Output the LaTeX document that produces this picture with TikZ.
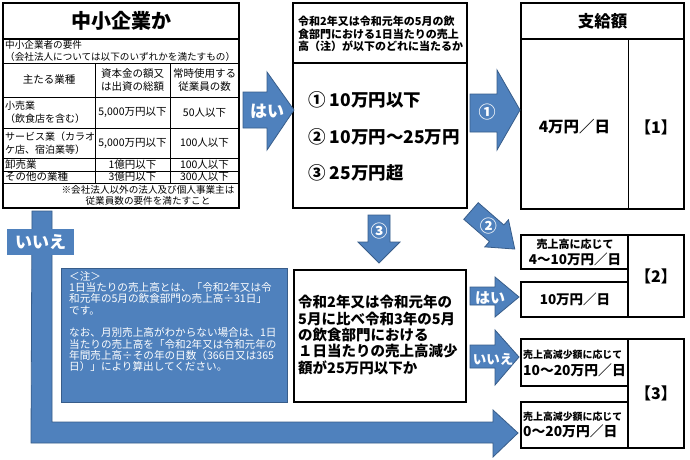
\documentclass[tikz,border=0pt]{standalone}
\usepackage{fontspec}
\setmainfont{Noto Sans CJK JP}
\definecolor{ablue}{HTML}{4F81BD}
\definecolor{aedge}{HTML}{385D8A}
\newcommand{\fsz}[2]{\fontsize{#1}{#2}\selectfont}
\begin{document}
\begin{tikzpicture}[x=1pt,y=-1pt,
  thickbox/.style={draw=black, line width=1.6pt},
  thinline/.style={draw=black, line width=0.8pt},
  blk/.style={fill=ablue, draw=aedge, line width=0.8pt},
  txt/.style={inner sep=0pt, text=black},
  wtxt/.style={inner sep=0pt, text=white, font=\bfseries\fsz{17}{20}},
]
\fill[white] (0,0) rectangle (690,460);
\useasboundingbox (0,0) rectangle (690,460);

% ---------- left box ----------
\draw[thickbox] (3,3) rectangle (239,208);
\draw[thickbox] (3,39) -- (239,39);
\foreach \yy in {63,97,128,158,171,183} \draw[thinline] (3,\yy) -- (239,\yy);
\draw[thinline] (95,63) -- (95,183);
\draw[thinline] (170,63) -- (170,183);

\node[txt, font=\bfseries\fsz{20}{24}] (title) at (121,21) {中小企業か};
\node[txt, font=\fsz{9.6}{11.5}, anchor=west, align=left] (req) at (5,51) {中小企業者の要件\\（会社法人については以下のいずれかを満たすもの）};
\node[txt, font=\fsz{10.5}{13}] (h1) at (49,80) {主たる業種};
\node[txt, font=\fsz{10.5}{13}, align=center] (h2) at (132.5,80) {資本金の額又\\は出資の総額};
\node[txt, font=\fsz{10.5}{13}, align=center] (h3) at (204.5,80) {常時使用する\\従業員の数};

\node[txt, font=\fsz{10}{13}, anchor=west, align=left] (r1a) at (5,112.5) {小売業\\（飲食店を含む）};
\node[txt, font=\fsz{10.5}{13}] (r1b) at (132.5,112.5) {5,000万円以下};
\node[txt, font=\fsz{10.5}{13}] (r1c) at (204.5,112.5) {50人以下};
\node[txt, font=\fsz{10}{13}, anchor=west, align=left] (r2a) at (5,143) {サービス業（カラオ\\ケ店、宿泊業等）};
\node[txt, font=\fsz{10.5}{13}] (r2b) at (132.5,143) {5,000万円以下};
\node[txt, font=\fsz{10.5}{13}] (r2c) at (204.5,143) {100人以下};
\node[txt, font=\fsz{10.5}{13}, anchor=west] (r3a) at (5,164.5) {卸売業};
\node[txt, font=\fsz{10.5}{13}] (r3b) at (132.5,164.5) {1億円以下};
\node[txt, font=\fsz{10.5}{13}] (r3c) at (204.5,164.5) {100人以下};
\node[txt, font=\fsz{10.5}{13}, anchor=west] (r4a) at (5,177) {その他の業種};
\node[txt, font=\fsz{10.5}{13}] (r4b) at (132.5,177) {3億円以下};
\node[txt, font=\fsz{10.5}{13}] (r4c) at (204.5,177) {300人以下};
\node[txt, font=\fsz{9.6}{11}, align=center] (rnote) at (148,195.5) {※会社法人以外の法人及び個人事業主は\\従業員数の要件を満たすこと};

% ---------- middle top box ----------
\draw[thickbox] (293,3) rectangle (467,208);
\draw[thickbox] (293,63) -- (467,63);
\node[txt, font=\bfseries\fsz{11}{12.2}, anchor=west, align=left] (q1) at (298,34) {令和2年又は令和元年の5月の飲\\食部門における1日当たりの売上\\高（注）が以下のどれに当たるか};
\node[txt, font=\bfseries\fsz{17.5}{19}, anchor=west] (o1) at (308,100) {① 10万円以下};
\node[txt, font=\bfseries\fsz{17.5}{19}, anchor=west] (o2) at (308,137) {② 10万円～25万円};
\node[txt, font=\bfseries\fsz{17.5}{19}, anchor=west] (o3) at (308,173) {③ 25万円超};

% ---------- right top box ----------
\draw[thickbox] (521,3) rectangle (684,209);
\draw[thickbox] (521,39) -- (684,39);
\draw[thinline] (628,39) -- (628,209);
\node[txt, font=\bfseries\fsz{16.5}{18}] (pay) at (602.5,21) {支給額};
\node[txt, font=\bfseries\fsz{15.5}{17}] (p1) at (574.5,127) {4万円／日};
\node[txt, font=\bfseries\fsz{16}{18}] (b1) at (656,127) {【1】};

% ---------- middle bottom box ----------
\draw[thickbox] (294,270) rectangle (466,402);
\node[txt, font=\bfseries\fsz{14.5}{16.3}, anchor=west, align=left] (q2) at (298,335) {令和2年又は令和元年の\\5月に比べ令和3年の5月\\の飲食部門における\\１日当たりの売上高減少\\額が25万円以下か};

% ---------- [2] boxes ----------
\draw[thickbox] (521,235) rectangle (628,269);
\draw[thickbox] (521,282) rectangle (628,317);
\draw[thickbox] (628,235) rectangle (684,317);
\node[txt, font=\bfseries\fsz{11}{13}] (s2a1) at (575,244) {売上高に応じて};
\node[txt, font=\bfseries\fsz{13.5}{15}] (s2a2) at (575,259) {4～10万円／日};
\node[txt, font=\bfseries\fsz{13.5}{15}] (s2b) at (575,299) {10万円／日};
\node[txt, font=\bfseries\fsz{16}{18}] (b2) at (656,276) {【2】};

% ---------- [3] boxes ----------
\draw[thickbox] (521,339) rectangle (628,386);
\draw[thickbox] (521,402) rectangle (628,448);
\draw[thickbox] (628,339) rectangle (684,448);
\node[txt, font=\bfseries\fsz{9.9}{12}, anchor=west] (s3a1) at (523,355) {売上高減少額に応じて};
\node[txt, font=\bfseries\fsz{13.8}{15}, anchor=west] (s3a2) at (523,370) {10～20万円／日};
\node[txt, font=\bfseries\fsz{9.9}{12}, anchor=west] (s3b1) at (523,417) {売上高減少額に応じて};
\node[txt, font=\bfseries\fsz{13.8}{15}, anchor=west] (s3b2) at (523,431) {0～20万円／日};
\node[txt, font=\bfseries\fsz{16}{18}] (b3) at (656,393) {【3】};

% ---------- L-shaped arrow (いいえ) ----------
\draw[blk] (32,211) -- (52,211) -- (52,422) -- (493,422) -- (493,410) -- (518,433)
  -- (493,457) -- (493,443) -- (31,443) -- cycle;
\fill[ablue] (7,229) rectangle (74,255);
\node[wtxt] (no1) at (40.5,242) {いいえ};

% ---------- note box ----------
\draw[blk] (61,268) rectangle (287,402);
\node[txt, text=white, font=\fsz{10.6}{11.3}, anchor=west, align=left] (note) at (69,321.5)
 {＜注＞\\1日当たりの売上高とは、「令和2年又は令\\和元年の5月の飲食部門の売上高÷31日」\\です。\\[11.3pt]なお、月別売上高がわからない場合は、1日\\当たりの売上高を「令和2年又は令和元年の\\年間売上高÷その年の日数（366日又は365\\日）」により算出してください。};

% ---------- arrows ----------
% はい (left -> middle)
\draw[blk] (243,92) -- (267,92) -- (267,72) -- (294,110) -- (267,150) -- (267,128) -- (243,128) -- cycle;
\node[wtxt] (yes1) at (267,111) {はい};
% ① (middle -> right)
\draw[blk] (470,94) -- (497,94) -- (497,70) -- (520,110) -- (497,150) -- (497,132) -- (470,132) -- cycle;
\node[wtxt] (c1) at (487,112) {①};
% ③ (down)
\draw[blk] (368,215) -- (390,215) -- (390,242) -- (400,242) -- (379,263) -- (358,242) -- (368,242) -- cycle;
\node[wtxt] (c3) at (379,231) {③};
% ② (diagonal)
\begin{scope}[shift={(471,211)}, rotate=-41]
  \draw[blk] (0,-11) -- (34,-11) -- (34,-18) -- (58,0) -- (34,18) -- (34,11) -- (0,11) -- cycle;
  \node[wtxt] (c2) at (23,0) {②};
\end{scope}
% はい (bottom)
\draw[blk] (470,287) -- (495,287) -- (495,277) -- (519,297) -- (495,317) -- (495,305) -- (470,305) -- cycle;
\node[wtxt, font=\bfseries\fsz{15}{17}] (yes2) at (490,298) {はい};
% いいえ (bottom)
\draw[blk] (470,345) -- (495,345) -- (495,330) -- (519,357) -- (495,385) -- (495,368) -- (470,368) -- cycle;
\node[wtxt, font=\bfseries\fsz{13.5}{15}] (no2) at (493,359) {いいえ};
\end{tikzpicture}
\end{document}
